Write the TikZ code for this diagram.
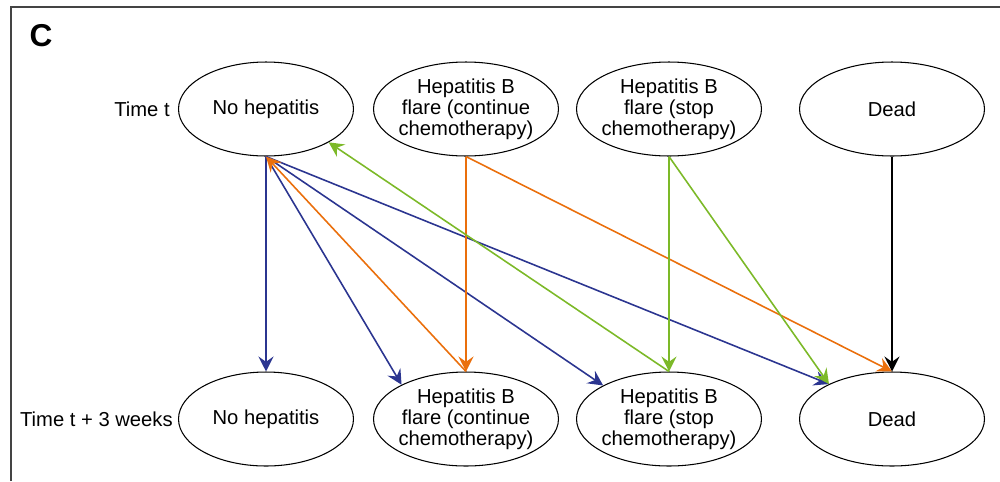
\documentclass[tikz,border=0pt]{standalone}
\usepackage{fontspec}
\setmainfont{Liberation Sans}
\usetikzlibrary{positioning}
\usetikzlibrary{shapes,arrows.meta}
\definecolor{flblue}{HTML}{2B3590}
\definecolor{florange}{HTML}{EA6F0C}
\definecolor{flgreen}{HTML}{7CB928}
\definecolor{framegray}{HTML}{444444}

\begin{document}
\begin{tikzpicture}[x=0.02cm,y=-0.02cm,
every node/.style={font=\fontsize{11.5}{12}\selectfont},
state/.style={draw,ellipse,line width=0.6pt,align=center,inner ysep=0pt,inner xsep=-2pt,
  minimum width=3.7cm,minimum height=1.88cm},
trans/.style={line width=0.9pt,-{Stealth[length=8.5pt,width=8.5pt,inset=3pt]}}]
\useasboundingbox (0,0) rectangle (1000,481);
\draw[line width=0.8pt,framegray] (11,481) -- (11,7) -- (1000,7);
\node[font=\fontsize{18}{18}\bfseries\selectfont] (panel) at (41,36) {C};
% time t
\path
(266,109) node[state,minimum width=3.5cm](n1){No hepatitis}
(466,109) node[state](c1){Hepatitis B\\flare (continue\\chemotherapy)}
(669,109) node[state](s1){Hepatitis B\\flare (stop\\chemotherapy)}
(892,109) node[state](d1){Dead};
% time t + 3 weeks
\path
(266,419) node[state,minimum width=3.5cm](n2){No hepatitis}
(466,419) node[state](c2){Hepatitis B\\flare (continue\\chemotherapy)}
(669,419) node[state](s2){Hepatitis B\\flare (stop\\chemotherapy)}
(892,419) node[state](d2){Dead};
\node[inner sep=0pt,left=0.16cm of n1] (tnow) {Time t};
\node[inner sep=0pt,left=0.1cm of n2] (tnext) {Time t + 3 weeks};
% transitions
\draw[trans,flblue] (n1.south) -- (n2.north);
\draw[trans,flblue] (n1.south) -- (c2.152);
\draw[trans,flblue] (n1.south) -- (s2.153);
\draw[trans,flblue] (n1.south) -- (d2.151);
\draw[trans,florange] (c1.south) -- (c2.north);
\draw[trans,florange] (c2.north) -- (n1.south);
\draw[trans,florange] (c1.south) -- (d2.north);
\draw[trans,flgreen] (s1.south) -- (s2.north);
\draw[trans,flgreen] (s2.north) -- (n1.332);
\draw[trans,flgreen] (s1.south) -- (d2.151);
\draw[trans,black] (d1.south) -- (d2.north);
\end{tikzpicture}
\end{document}
